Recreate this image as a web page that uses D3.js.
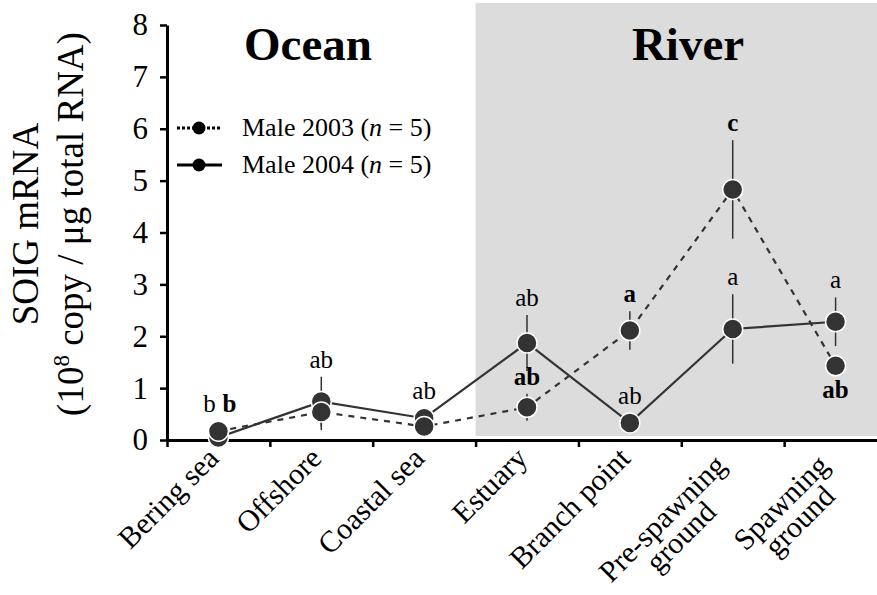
<!DOCTYPE html>
<html>
<head>
<meta charset="utf-8">
<script src="https://cdn.jsdelivr.net/npm/d3@7"></script>
<style>
  body { margin: 0; background: #fff; }
  svg { display: block; }
</style>
</head>
<body>
<svg id="chart" width="877" height="595"></svg>
<script>
// Sampling sites along the migration route
const categories = ["Bering sea", "Offshore", "Coastal sea", "Estuary", "Branch point", "Pre-spawning ground", "Spawning ground"];
const categoryLabels = ["Bering sea", "Offshore", "Coastal sea", "Estuary", "Branch point", "Pre-spawning\nground", "Spawning\nground"];

// SOIG mRNA (10^8 copy / µg total RNA), mean and SE
const male2003Mean = [0.17, 0.54, 0.26, 0.63, 2.11, 4.83, 1.43];
const male2003Err  = [0.05, 0.35, 0.06, 0.26, 0.37, 0.95, 0.10];
const male2004Mean = [0.05, 0.74, 0.42, 1.87, 0.33, 2.14, 2.28];
const male2004Err  = [0.05, 0.48, 0.08, 0.54, 0.08, 0.67, 0.47];

// Significance letters (2003 shown in bold)
const letters2003 = ["b", "", "", "ab", "a", "c", "ab"];
const letters2004 = ["b", "ab", "ab", "ab", "ab", "a", "a"];

const yTicks = [0, 1, 2, 3, 4, 5, 6, 7, 8];
const regionNames = ["Ocean", "River"];
const seriesNames = ["Male 2003", "Male 2004"];

const FONT = "Liberation Serif";
const svg = d3.select("#chart");
const plotLeft = 167, plotRight = 887, plotTop = 25, plotBottom = 440;
const ink = "#333";
const r = 10;

const x = d3.scaleBand().domain(categories).range([plotLeft, plotRight]);
const xEdge = d3.scaleLinear().domain([0, categories.length]).range([plotLeft, plotRight]);
const y = d3.scaleLinear().domain([0, 8]).range([plotBottom, plotTop]);
const cx = c => x(c) + x.bandwidth() / 2;

// River section shading
svg.append("rect")
  .attr("x", x("Estuary")).attr("y", 3)
  .attr("width", 877 - x("Estuary")).attr("height", plotBottom - 4 - 3)
  .attr("fill", "#dcdcdc");

// Region titles
const regionCenters = [308, 688];
regionNames.forEach((name, i) => {
  svg.append("text")
    .attr("x", regionCenters[i]).attr("y", 60)
    .attr("text-anchor", "middle")
    .attr("font-size", 47).attr("font-weight", "bold")
    .text(name);
});

// Axes
const yAxis = svg.append("g").attr("transform", `translate(${plotLeft},0)`)
  .call(d3.axisLeft(y).tickValues(yTicks).tickSize(7).tickSizeOuter(0).tickPadding(12));
yAxis.select(".domain").attr("stroke", "#000").attr("stroke-width", 3);
yAxis.selectAll(".tick line").attr("stroke", "#000").attr("stroke-width", 2.5);
yAxis.selectAll(".tick text").attr("font-size", 31);

const xAxis = svg.append("g").attr("transform", `translate(0,${plotBottom})`)
  .call(d3.axisBottom(xEdge).ticks(categories.length).tickSize(7).tickSizeOuter(0).tickFormat(""));
xAxis.select(".domain").attr("stroke", "#000").attr("stroke-width", 3);
xAxis.selectAll(".tick line").attr("stroke", "#000").attr("stroke-width", 2.5);

// Category labels, rotated
categoryLabels.forEach((lab, i) => {
  const lines = lab.split("\n");
  const g = svg.append("g")
    .attr("transform", `translate(${cx(categories[i]) + 2},460) rotate(-45)`);
  const texts = lines.map((ln, k) => g.append("text")
    .style("font-family", FONT)
    .attr("font-size", 30).attr("text-anchor", "end")
    .attr("y", k * 26).text(ln));
  if (lines.length > 1) {
    const widths = texts.map(t => t.node().getComputedTextLength());
    const W = d3.max(widths);
    texts.forEach((t, k) => t.attr("x", -10 - (W - widths[k]) / 2));
  }
});

// Y axis title
const yTitle = svg.append("g").attr("transform", "translate(0,224) rotate(-90)");
yTitle.append("text").attr("x", 0).attr("y", 38).attr("text-anchor", "middle")
  .attr("font-size", 37).text("SOIG mRNA");
const t2 = yTitle.append("text").attr("x", 0).attr("y", 83).attr("text-anchor", "middle")
  .attr("font-size", 37);
t2.append("tspan").text("(10");
t2.append("tspan").attr("dy", -14).attr("font-size", 23).text("8");
t2.append("tspan").attr("dy", 14).text(" copy / μg total RNA)");

// Lines
const line = d3.line().x((d, i) => cx(categories[i])).y(d => y(d));
svg.append("path").datum(male2004Mean).attr("d", line)
  .attr("fill", "none").attr("stroke", ink).attr("stroke-width", 2.2);
svg.append("path").datum(male2003Mean).attr("d", line)
  .attr("fill", "none").attr("stroke", ink).attr("stroke-width", 2.2)
  .attr("stroke-dasharray", "6,6");

// Error bars and points (2004 first, 2003 on top)
[[male2004Mean, male2004Err], [male2003Mean, male2003Err]].forEach(([m, e]) => {
  svg.append("g").selectAll("line").data(m).join("line")
    .attr("x1", (d, i) => cx(categories[i])).attr("x2", (d, i) => cx(categories[i]))
    .attr("y1", (d, i) => y(d - e[i])).attr("y2", (d, i) => y(d + e[i]))
    .attr("stroke", ink).attr("stroke-width", 1.5);
});
[[male2004Mean, male2004Err], [male2003Mean, male2003Err]].forEach(([m, e]) => {
  svg.append("g").selectAll("circle").data(m).join("circle")
    .attr("cx", (d, i) => cx(categories[i])).attr("cy", d => y(d)).attr("r", r)
    .attr("fill", ink).attr("stroke", "#fff").attr("stroke-width", 1.5);
});

// Significance letters
const topOf = (m, e, i) => Math.min(y(m[i] + e[i]), y(m[i]) - r);
const botOf = (m, e, i) => Math.max(y(m[i] - e[i]), y(m[i]) + r);
const side2003 = ["beside", "", "", "above", "above", "above", "below"];
const letter = (xx, yy, txt, bold) => svg.append("text")
  .attr("x", xx).attr("y", yy).attr("text-anchor", "middle")
  .attr("font-size", 25).attr("font-weight", bold ? "bold" : "normal").text(txt);

categories.forEach((c, i) => {
  const xc = cx(c);
  const t4 = topOf(male2004Mean, male2004Err, i);
  const t3 = topOf(male2003Mean, male2003Err, i);
  if (side2003[i] === "beside") {
    const yy = Math.min(t3, t4) - 9;
    letter(xc - 9, yy, letters2004[i], false);
    letter(xc + 11, yy, letters2003[i], true);
    return;
  }
  letter(xc, t4 - 9, letters2004[i], false);
  if (side2003[i] === "above") letter(xc, t3 - 9, letters2003[i], true);
  if (side2003[i] === "below") letter(xc, botOf(male2003Mean, male2003Err, i) + 22, letters2003[i], true);
});

// Legend
const legend = svg.append("g");
seriesNames.forEach((name, k) => {
  const ly = 128 + k * 37;
  legend.append("line").attr("x1", 177).attr("x2", 222).attr("y1", ly).attr("y2", ly)
    .attr("stroke", "#000").attr("stroke-width", 3)
    .attr("stroke-dasharray", k === 0 ? "3,2" : null);
  legend.append("circle").attr("cx", 199).attr("cy", ly).attr("r", 6.5).attr("fill", "#000");
  const t = legend.append("text").attr("x", 242).attr("y", ly + 8).attr("font-size", 26);
  t.append("tspan").text(name + " (");
  t.append("tspan").attr("font-style", "italic").text("n");
  t.append("tspan").text(" = 5)");
});

// Serif face for every label
svg.selectAll("text").style("font-family", FONT).attr("fill", "#000");
</script>
</body>
</html>
